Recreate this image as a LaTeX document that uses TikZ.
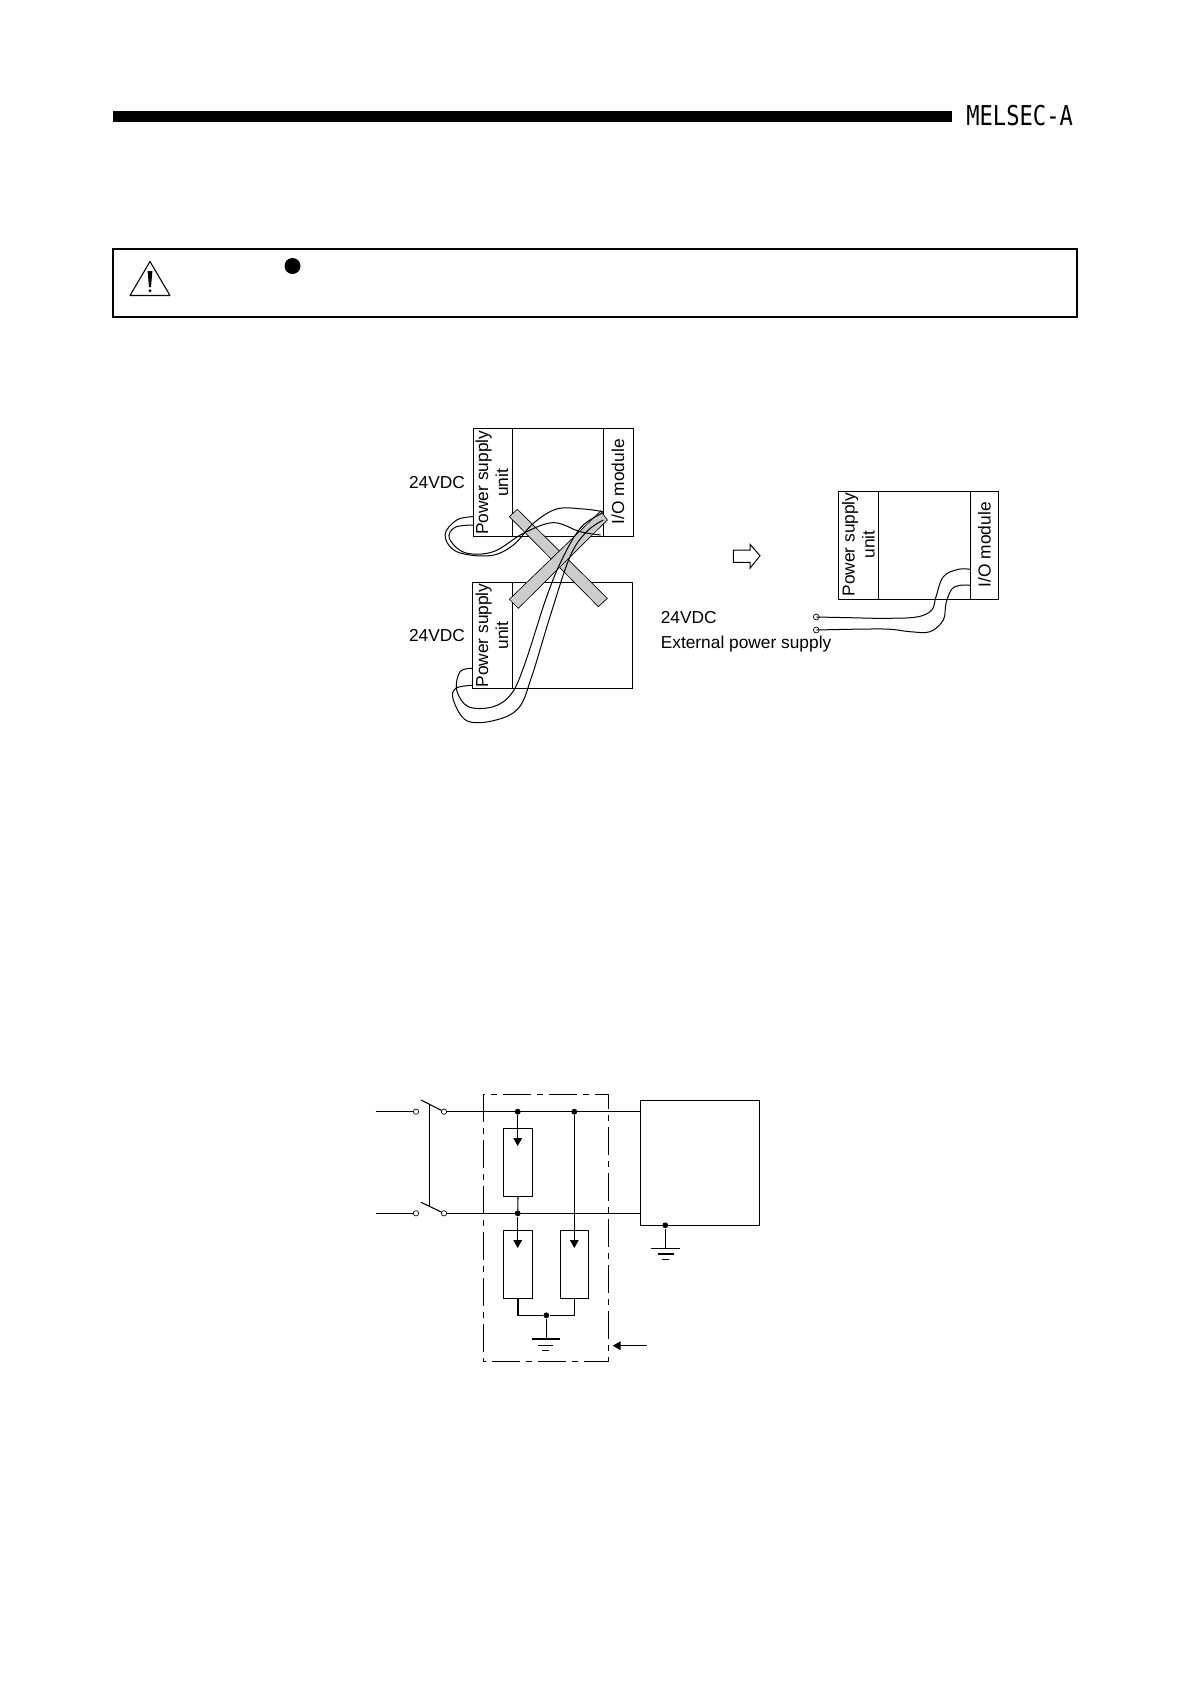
\documentclass[tikz,border=0pt]{standalone}
\usepackage{fontspec}
\setmainfont{Liberation Sans}
\newfontfamily\melsecfont[FakeStretch=.81]{DejaVu Sans Mono}
\usetikzlibrary{arrows.meta}
\tikzset{
  wire/.style={line width=.8pt},
  cable/.style={line width=.75pt,smooth,tension=.6},
  modbox/.style={line width=.75pt},
  lbl/.style={font=\fontsize{13}{15}\selectfont,inner sep=0pt,align=center},
  vlbl/.style={lbl,rotate=90},
  band/.style={draw,line width=.5pt,fill=gray!40},
  term/.style={draw,circle,fill=white,line width=.5pt,inner sep=0pt,minimum size=4.4pt},
  junction/.style={circle,fill,inner sep=0pt,minimum size=4.4pt},
  resbox/.style={draw,line width=.8pt,inner sep=0pt,minimum width=22pt,minimum height=51.3pt},
  sink/.style={-{Triangle[length=6pt,width=6.5pt]},line width=.8pt},
}
\begin{document}
\begin{tikzpicture}[x=.75pt,y=-.75pt]
\useasboundingbox (0,0) rectangle (1190,1684);
% Header
\fill (113,111) rectangle (952,122);
\node[inner sep=0pt,anchor=west,font=\fontsize{20.5}{24}\melsecfont] (melsec) at (966,115.5) {MELSEC-A};
% Caution frame
\draw[line width=1.5pt] (113,249) rectangle (1077,317);
\draw[line width=.8pt,line join=round] (150,261.5) -- (130,295.5) -- (170,295.5) -- cycle;
\fill (147.6,271) -- (152.4,271) -- (151,287) -- (149,287) -- cycle;
\fill (150,290.7) circle[radius=1.6];
\fill (292.5,266) circle[radius=8];
% Upper base units
\draw[modbox] (473.3,428.3) rectangle (633.3,536.7);
\draw[modbox] (512.7,428.3) -- (512.7,536.7);
\draw[modbox] (603.3,428.3) -- (603.3,536.7);
\node[vlbl] (psu1) at (492,482.7) {Power supply\\unit};
\node[vlbl] (io1) at (618,481.7) {I/O module};
\node[lbl] (v1) at (437,482.7) {24VDC};
% Lower base unit
\draw[modbox] (472,582.3) rectangle (632.3,688.7);
\draw[modbox] (512.7,582.3) -- (512.7,688.7);
\node[vlbl] (psu2) at (492,635.5) {Power supply\\unit};
\node[lbl] (v2) at (437,635.7) {24VDC};
% Cross, zoom coordinates
\begin{scope}[shift={(390,410)},x=.25pt,y=-.25pt]
\draw[band] (358,320) -- (382,298) -- (652,565) -- (625,590) -- cycle;
\draw[band] (358,568) -- (385,595) -- (652,330) -- (632,303) -- cycle;
% Wires of the upper unit
\draw[cable] plot coordinates {(250,320) (200,330) (165,375) (200,425) (300,437) (370,405) (430,340) (500,297) (580,297) (640,305)};
\draw[cable] plot coordinates {(250,345) (195,352) (178,385) (225,428) (310,425) (400,370) (490,338) (570,365) (632,375)};
% Wires of the lower unit
\draw[cable] plot coordinates {(246,775) (210,785) (200,840) (235,890) (310,890) (365,850) (405,760) (470,560) (520,440) (575,350) (640,308)};
\draw[cable] plot coordinates {(246,826) (197,835) (190,870) (230,932) (310,932) (385,895) (425,800) (480,620) (540,440) (590,365) (640,330)};
\end{scope}
% Right unit
\draw[modbox] (838.3,491) rectangle (998.3,599);
\draw[modbox] (878.3,491) -- (878.3,599);
\draw[modbox] (970,491) -- (970,599);
\node[vlbl] (psu3) at (858.5,544.5) {Power supply\\unit};
\node[vlbl] (io3) at (984.3,544.7) {I/O module};
\node[lbl,anchor=west] (v3) at (660.5,617.7) {24VDC};
\node[lbl,anchor=west] (ext) at (660.5,643.7) {External power supply};
\draw[line width=.75pt,fill=white] (733.3,550) -- (750,550) -- (750,544.3) -- (760,555.7) -- (750,568.3) -- (750,562.3) -- (733.3,562.3) -- cycle;
\node[term] (t1) at (816.3,617) {};
\node[term] (t2) at (816.3,630) {};
\coordinate (in1) at (970,569.3);
\coordinate (in2) at (970,585.3);
\draw[cable] plot coordinates {(t1) (850,617.7) (883.3,618.3) (916.7,617) (931.7,610) (936,596.7) (943.3,576.7) (958.3,569.3) (in1)};
\draw[cable] plot coordinates {(t2) (883.3,629) (910,631.7) (930,631.7) (943.3,620) (946,603.3) (951.7,589.3) (960,585.3) (in2)};
% Circuit
\coordinate (la) at (375.7,1111.7);
\coordinate (lb) at (375.7,1213.3);
\coordinate (ra) at (640,1111.7);
\coordinate (rb) at (640,1213.3);
\node[term,minimum size=4pt] (s1) at (416,1111.7) {};
\node[term,minimum size=4pt] (s2) at (444,1111.7) {};
\node[term,minimum size=4pt] (s3) at (416,1213.3) {};
\node[term,minimum size=4pt] (s4) at (444,1213.3) {};
\draw[wire] (la) -- (s1);
\draw[wire] (lb) -- (s3);
\draw[wire] (421,1100) -- (s2);
\draw[wire] (421,1202.3) -- (s4);
\draw[wire] (429.3,1104) -- (429.3,1206);
\draw[wire] (s2) -- (ra);
\draw[wire] (s4) -- (rb);
% Surge box
\draw[wire,dash pattern=on 21pt off 4.5pt on 4.5pt off 4.5pt] (483.3,1094.3) rectangle (608.3,1361.3);
\node[junction] (ja) at (517.7,1111.7) {};
\node[junction] (jb) at (574.3,1111.7) {};
\node[junction] (jc) at (517.7,1213.3) {};
\node[junction] (jd) at (546.3,1315.3) {};
\node[resbox] (r1) at (518,1162.5) {};
\node[resbox] (r2) at (518,1264.5) {};
\node[resbox,minimum width=21.3pt] (r3) at (574.5,1264.5) {};
\coordinate (tipa) at (517.7,1146);
\coordinate (tipb) at (517.7,1248);
\coordinate (tipc) at (574.3,1248);
\draw[sink] (ja) -- (tipa);
\draw[sink] (jc) -- (tipb);
\draw[sink] (jb) -- (tipc);
\draw[wire] (r1.south) -- (jc);
\draw[wire] (r2.south) |- (jd);
\draw[wire] (r3.south) |- (jd);
% Grounds
\coordinate (ga) at (546.3,1339);
\draw[wire] (jd) -- (ga);
\draw[wire] (532,1339) -- (560,1339);
\draw[wire] (538,1345.3) -- (553.3,1345.3);
\draw[wire] (542.3,1350.3) -- (549,1350.3);
% Load box
\node[draw,line width=.8pt,inner sep=0pt,minimum width=89.5pt,minimum height=93.75pt] (load) at (699.7,1162.8) {};
\node[junction] (je) at (665.3,1225.3) {};
\coordinate (gb) at (665.3,1248.3);
\draw[wire] (je) -- (gb);
\draw[wire] (651,1248.3) -- (680,1248.3);
\draw[wire] (657.7,1254) -- (674,1254);
\draw[wire] (662,1259.3) -- (668.7,1259.3);
% Pointer
\coordinate (pa) at (646.7,1345.7);
\coordinate (pb) at (612.7,1345.7);
\draw[sink] (pa) -- (pb);
\end{tikzpicture}
\end{document}
